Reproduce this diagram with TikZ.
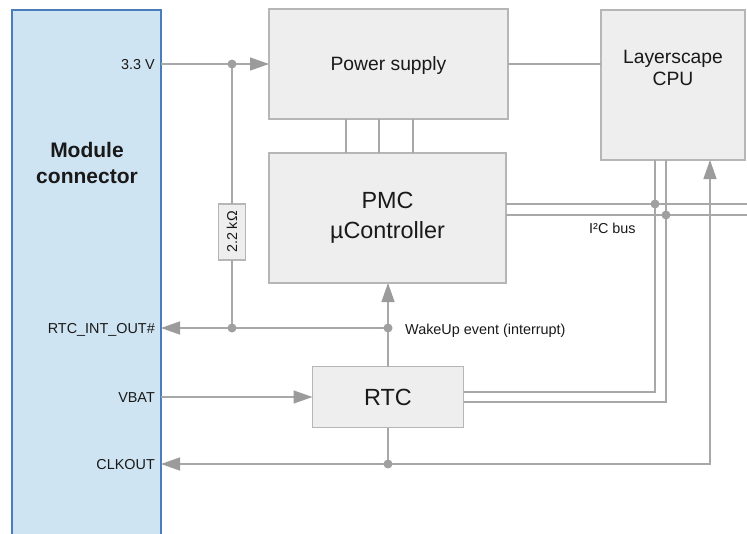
\documentclass[tikz,border=0pt]{standalone}
\usepackage{fontspec}
\setmainfont{Liberation Sans}
\usetikzlibrary{arrows.meta}

\definecolor{wire}{RGB}{168,168,168}
\definecolor{tipc}{RGB}{155,155,155}
\definecolor{dotc}{RGB}{160,160,160}
\definecolor{boxfill}{RGB}{238,238,238}
\definecolor{boxline}{RGB}{182,182,182}
\definecolor{modfill}{RGB}{207,228,243}
\definecolor{modline}{RGB}{74,126,187}
\definecolor{ink}{RGB}{25,25,25}

\tikzset{
  wireline/.style={draw=wire, line width=1.4pt},
  >={Triangle[length=19pt,width=13pt,color=tipc]},
  blockbox/.style={draw=boxline, fill=boxfill, line width=1.3pt, inner sep=0pt, outer sep=0pt, text=ink},
  pinlabel/.style={anchor=base east, inner sep=0pt, text=ink, font=\fontsize{14.4}{17}\selectfont},
  smalllabel/.style={anchor=base west, inner sep=0pt, text=ink, font=\fontsize{14.4}{17}\selectfont},
  junction/.style={fill=dotc, draw=none},
}

\begin{document}
\begin{tikzpicture}[x=1pt,y=-1pt]
\useasboundingbox (0,0) rectangle (747,533);
\clip (0,0) rectangle (747,533);

% module connector strip, running off the bottom edge
\node[draw=modline, fill=modfill, line width=1.4pt, inner sep=0pt, outer sep=0pt,
      minimum width=149pt, minimum height=540pt] (mod) at (86.5,280) {};
\node[anchor=north, inner sep=0pt, align=center, text=ink,
      font=\bfseries\fontsize{21}{26}\selectfont] (modtxt) at (87,141.7) {Module\\connector};

% functional blocks
\node[blockbox, minimum width=239pt, minimum height=110pt, text height=13.8pt, text depth=0pt,
      font=\fontsize{19.3}{22}\selectfont] (ps) at (388.5,64) {Power supply};
\node[blockbox, minimum width=144pt, minimum height=150pt] (cpu) at (673,85) {};
\node[anchor=north, inner sep=0pt, align=center, text=ink,
      font=\fontsize{19.3}{22}\selectfont] (cputxt) at (673,50) {Layerscape\\CPU};
\node[blockbox, minimum width=237pt, minimum height=130pt, align=center,
      font=\fontsize{23.4}{29.5}\selectfont] (pmc) at (387.5,218) {PMC\\µController};
\node[blockbox, minimum width=151pt, minimum height=61pt, text height=16.8pt, text depth=0pt,
      font=\fontsize{23.4}{28}\selectfont] (rtc) at (388,397) {RTC};
\node[blockbox, rotate=90, minimum width=56pt, minimum height=27pt, text height=10.3pt, text depth=0pt,
      font=\fontsize{14.3}{17}\selectfont] (res) at (232,232) {2.2 kΩ};

% junction points and bends
\coordinate (jv) at (232,64);
\coordinate (jint) at (232,328);
\coordinate (jwake) at (388,328);
\coordinate (jclk) at (388,464);
\coordinate (clkturn) at (710,464);
\coordinate (busA) at (747,204);
\coordinate (busB) at (747,215);
\coordinate (sdaA) at (655,204);
\coordinate (sdaB) at (666,215);
\coordinate (rtcA) at (655,392);
\coordinate (rtcB) at (666,402);

% pin names
\node[pinlabel] (p33) at (155,69.2) {3.3 V};
\node[pinlabel] (pint) at (155,333.2) {RTC\_INT\_OUT\#};
\node[pinlabel] (pbat) at (155,402) {VBAT};
\node[pinlabel] (pclk) at (155,469.3) {CLKOUT};

% supply path and pull-up
\draw[wireline,->] (mod.east |- jv) -- (ps.west);
\draw[wireline] (jv) -- (jv |- res.east);
\draw[wireline] (jv |- res.west) -- (jint);
\draw[wireline] (ps.east) -- (cpu.west |- ps.east);
\foreach \x in {346,379,413}
  \draw[wireline] (ps.south -| \x,0) -- (pmc.north -| \x,0);

% RTC signals
\draw[wireline,->] (jwake) -- (mod.east |- jwake);
\draw[wireline,->] (rtc.north) -- (pmc.south -| rtc.north);
\draw[wireline,->] (mod.east |- rtc.west) -- (rtc.west);
\draw[wireline,<->] (mod.east |- jclk) -- (clkturn) -- (clkturn |- cpu.south);
\draw[wireline] (rtc.south) -- (jclk);

% I2C bus
\draw[wireline] (pmc.east |- busA) -- (busA);
\draw[wireline] (pmc.east |- busB) -- (busB);
\draw[wireline] (sdaA |- cpu.south) -- (rtcA) -- (rtc.east |- rtcA);
\draw[wireline] (sdaB |- cpu.south) -- (rtcB) -- (rtc.east |- rtcB);

% junction dots
\foreach \p in {jv,jint,jwake,jclk,sdaA,sdaB}
  \fill[junction] (\p) circle (4.5pt);

% signal labels
\node[smalllabel] (wake) at (405,334) {WakeUp event (interrupt)};
\node[smalllabel] (i2c) at (589,233.5) {I²C bus};
\end{tikzpicture}
\end{document}
